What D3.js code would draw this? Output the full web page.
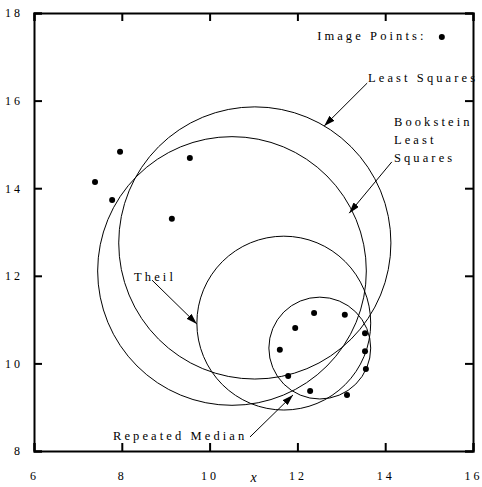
<!DOCTYPE html>
<html>
<head>
<meta charset="utf-8">
<script src="https://cdn.jsdelivr.net/npm/d3@7"></script>
<style>
  body { margin: 0; background: #fff; }
  text { font-family: "Liberation Serif", "DejaVu Serif", serif; fill: #000; }
</style>
</head>
<body>
<div id="chart"></div>
<script>
// image points
var pointX = [7.39, 7.96, 7.78, 9.55, 9.14, 12.38, 13.08, 11.95, 11.60, 13.54, 13.54, 13.56, 11.79, 12.29, 13.13];
var pointY = [14.14, 14.83, 13.73, 14.69, 13.30, 11.15, 11.11, 10.81, 10.31, 10.69, 10.28, 9.87, 9.71, 9.37, 9.28];

// fitted circles
var circleNames = ["Least Squares", "Bookstein Least Squares", "Theil", "Repeated Median"];
var circleCx = [11.03, 10.51, 11.69, 12.51];
var circleCy = [12.75, 12.11, 10.92, 10.35];
var circleR  = [3.10, 3.06, 1.98, 1.16];

var xTicks = [6, 8, 10, 12, 14, 16];
var yTicks = [8, 10, 12, 14, 16, 18];

// labels with arrows, in data units
var labels = [
  { lines: ["Least Squares"], x: 13.61, y: 16.42, from: [13.59, 16.40], to: [12.61, 15.42] },
  { lines: ["Bookstein", "Least", "Squares"], x: 14.20, y: 15.42, from: [14.15, 14.60], to: [13.18, 13.43] },
  { lines: ["Theil"], x: 8.28, y: 11.88, from: [8.69, 11.90], to: [9.71, 10.90] },
  { lines: ["Repeated Median"], x: 7.80, y: 8.25, from: [10.92, 8.32], to: [11.90, 9.28] }
];

var width = 482, height = 487;
var x = d3.scaleLinear().domain([6, 16]).range([34, 473]);
var y = d3.scaleLinear().domain([8, 18]).range([451, 13]);
var unit = x(1) - x(0);
var fs = 12.5, ls = 3.1;

var svg = d3.select("#chart").append("svg")
    .attr("width", width)
    .attr("height", height);

svg.append("defs").append("marker")
    .attr("id", "head")
    .attr("viewBox", "0 0 11 7")
    .attr("refX", 11).attr("refY", 3.5)
    .attr("markerWidth", 11).attr("markerHeight", 7)
    .attr("markerUnits", "userSpaceOnUse")
    .attr("orient", "auto")
  .append("path")
    .attr("d", "M0,0L11,3.5L0,7Z")
    .attr("fill", "#000");

// circles
svg.append("g").selectAll("circle.fit")
    .data(circleNames)
  .enter().append("circle")
    .attr("class", "fit")
    .attr("cx", function(d, i) { return x(circleCx[i]); })
    .attr("cy", function(d, i) { return y(circleCy[i]); })
    .attr("r", function(d, i) { return circleR[i] * unit; })
    .attr("fill", "none")
    .attr("stroke", "#000")
    .attr("stroke-width", 1);

// points
svg.append("g").selectAll("circle.pt")
    .data(pointX)
  .enter().append("circle")
    .attr("class", "pt")
    .attr("cx", function(d) { return x(d); })
    .attr("cy", function(d, i) { return y(pointY[i]); })
    .attr("r", 3)
    .attr("fill", "#000");

// axes: ticks inward on all four sides
var tickLen = 8;
var axes = [
  { a: d3.axisBottom(x).tickValues(xTicks).tickSize(-tickLen), t: "translate(0," + y(8) + ")" },
  { a: d3.axisTop(x).tickValues(xTicks).tickSize(-tickLen).tickFormat(""), t: "translate(0," + y(18) + ")" },
  { a: d3.axisLeft(y).tickValues(yTicks).tickSize(-tickLen), t: "translate(" + x(6) + ",0)" },
  { a: d3.axisRight(y).tickValues(yTicks).tickSize(-tickLen).tickFormat(""), t: "translate(" + x(16) + ",0)" }
];
axes.forEach(function(ax, i) {
  var g = svg.append("g")
      .attr("transform", ax.t)
      .call(ax.a.tickPadding(i == 0 ? 20 : 11));
  g.select(".domain").attr("stroke-width", 2).attr("stroke", "#000");
  g.selectAll(".tick line").attr("stroke-width", 2).attr("stroke", "#000");
  g.selectAll(".tick text")
      .attr("font-family", "Liberation Serif, DejaVu Serif, serif")
      .attr("font-size", 12)
      .attr("letter-spacing", 3);
});

// x axis title
svg.append("text")
    .attr("x", x(11))
    .attr("y", 482)
    .attr("text-anchor", "middle")
    .attr("font-style", "italic")
    .attr("font-size", 14)
    .text("x");

// legend
svg.append("text")
    .attr("x", x(12.45))
    .attr("y", y(17.38))
    .attr("font-size", fs)
    .attr("letter-spacing", ls)
    .text("Image Points:");
svg.append("circle")
    .attr("cx", x(15.29))
    .attr("cy", y(17.45))
    .attr("r", 3)
    .attr("fill", "#000");

// annotations
labels.forEach(function(l) {
  var t = svg.append("text")
      .attr("x", x(l.x))
      .attr("y", y(l.y))
      .attr("font-size", fs)
      .attr("letter-spacing", ls);
  l.lines.forEach(function(s, k) {
    t.append("tspan")
        .attr("x", x(l.x))
        .attr("dy", k == 0 ? 0 : 18)
        .text(s);
  });
  svg.append("line")
      .attr("x1", x(l.from[0])).attr("y1", y(l.from[1]))
      .attr("x2", x(l.to[0])).attr("y2", y(l.to[1]))
      .attr("stroke", "#000")
      .attr("stroke-width", 1)
      .attr("marker-end", "url(#head)");
});
</script>
</body>
</html>
